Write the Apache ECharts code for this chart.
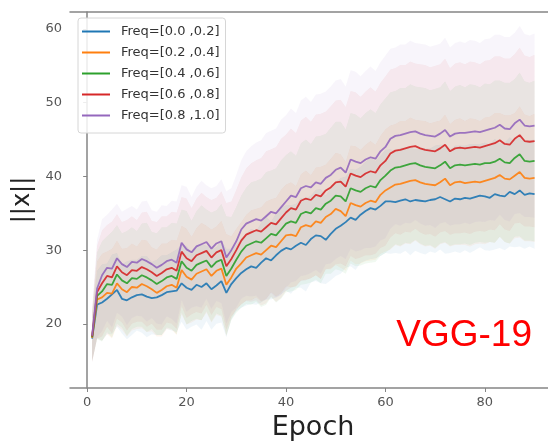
<!DOCTYPE html>
<html><head><meta charset="utf-8">
<script src="https://cdn.jsdelivr.net/npm/echarts@6/dist/echarts.min.js"></script>
<style>html,body{margin:0;padding:0;background:#fff}#c{width:548px;height:446px}</style>
</head><body><div id="c"></div>
<script>
const epochs = [1,2,3,4,5,6,7,8,9,10,11,12,13,14,15,16,17,18,19,20,21,22,23,24,25,26,27,28,29,30,
31,32,33,34,35,36,37,38,39,40,41,42,43,44,45,46,47,48,49,50,51,52,53,54,55,56,57,58,59,60,
61,62,63,64,65,66,67,68,69,70,71,72,73,74,75,76,77,78,79,80,81,82,83,84,85,86,87,88,89,90];
const seriesNames = ['Freq=[0.0 ,0.2]','Freq=[0.2 ,0.4]','Freq=[0.4 ,0.6]','Freq=[0.6 ,0.8]','Freq=[0.8 ,1.0]'];
const xTicks = [0,20,40,60,80];
const yTicks = [20,30,40,50,60];

const meanF1 = [18.0,22.6,22.9,23.4,24.0,24.6,23.4,23.2,23.6,23.9,
 24.0,23.7,23.5,23.6,23.9,24.3,24.4,24.5,25.5,24.9,
 24.6,25.3,25.0,25.5,24.7,25.2,25.8,24.2,25.4,26.2,
 26.9,27.4,27.8,27.6,28.3,28.9,28.6,29.3,29.9,30.3,
 30.1,30.6,31.0,30.7,31.5,32.0,31.9,31.4,32.2,32.9,
 33.3,33.8,34.4,34.1,34.8,35.3,35.7,35.5,36.0,36.6,
 36.6,36.5,36.7,36.9,36.6,36.8,36.7,36.6,36.8,36.9,
 37.2,36.9,36.6,37.0,36.9,37.1,37.0,37.2,37.4,37.3,
 37.1,37.6,37.4,37.3,37.9,37.6,38.1,37.5,37.7,37.6];
const meanF2 = [18.1,23.3,23.6,24.2,24.1,25.5,24.7,24.3,25.0,24.9,
 25.4,25.1,24.7,24.2,24.6,25.1,25.3,24.9,27.3,26.4,
 26.0,26.8,27.1,27.4,26.5,27.2,27.5,25.3,26.3,27.5,
 28.2,29.0,29.3,29.6,29.4,30.0,30.6,30.4,31.2,32.0,
 32.1,31.9,33.1,33.4,33.2,33.9,33.7,34.5,34.9,35.6,
 35.3,34.6,36.4,36.1,35.9,36.4,36.7,36.5,37.5,38.1,
 38.5,38.9,39.0,39.2,39.4,39.5,39.2,39.0,38.9,38.8,
 39.2,39.7,38.8,39.2,39.3,39.1,39.2,39.3,39.2,39.4,
 39.6,39.8,40.2,39.7,39.6,40.1,40.6,39.8,39.7,39.8];
const meanF3 = [18.2,23.8,24.4,25.4,25.3,26.7,25.9,25.5,26.2,26.1,
 26.6,26.3,25.9,25.4,25.8,26.3,26.5,26.1,28.5,27.6,
 27.2,28.0,28.3,28.6,27.7,28.4,28.7,26.5,27.5,28.7,
 29.8,30.6,30.9,31.2,31.0,31.6,32.2,32.0,32.8,33.6,
 33.9,33.7,34.9,35.2,35.0,35.7,35.5,36.3,36.7,37.4,
 37.3,36.6,38.4,38.1,37.9,38.4,38.7,38.5,39.5,40.1,
 40.8,41.2,41.3,41.5,41.7,41.8,41.5,41.3,41.2,41.1,
 41.5,42.0,41.1,41.5,41.6,41.5,41.6,41.7,41.6,41.8,
 41.8,42.0,42.4,41.9,41.8,42.5,43.0,42.1,42.0,42.1];
const meanF4 = [18.3,24.3,25.5,26.5,26.3,27.8,27.0,26.6,27.3,27.2,
 27.7,27.4,27.0,26.5,26.9,27.4,27.6,27.2,29.8,28.9,
 28.5,29.3,29.6,29.9,29.0,29.7,30.0,27.8,28.8,30.0,
 31.3,32.1,32.4,32.7,32.5,33.1,33.7,33.5,34.3,35.1,
 35.7,35.5,36.7,37.0,36.8,37.5,37.3,38.1,38.5,39.2,
 39.3,38.6,40.4,40.1,39.9,40.4,40.7,40.5,41.5,42.1,
 43.1,43.5,43.6,43.8,44.0,44.1,43.8,43.6,43.5,43.4,
 43.8,44.3,43.4,43.8,43.9,43.8,43.9,44.0,43.9,44.1,
 44.3,44.5,44.9,44.4,44.3,45.1,45.6,44.8,44.7,44.8];
const meanF5 = [18.4,24.8,26.6,27.6,27.5,28.9,28.1,27.7,28.4,28.3,
 28.8,28.5,28.1,27.6,28.0,28.5,28.7,28.3,31.0,30.1,
 29.7,30.5,30.8,31.1,30.2,30.9,31.2,29.0,30.0,31.2,
 32.8,33.6,33.9,34.2,34.0,34.6,35.2,35.0,35.8,36.6,
 37.4,37.2,38.4,38.7,38.5,39.2,39.0,39.8,40.2,40.9,
 41.2,40.5,42.3,42.0,41.8,42.3,42.6,42.4,43.4,44.0,
 45.1,45.5,45.6,45.8,46.0,46.1,45.8,45.6,45.5,45.4,
 45.8,46.3,45.4,45.8,45.9,45.9,46.0,46.1,46.0,46.2,
 46.4,46.6,47.0,46.5,46.4,47.2,47.7,46.9,46.8,46.9];

const stdF1 = [3.0,4.6,5.2,4.8,5.4,5.0,4.7,5.3,5.1,4.8,
 5.2,5.5,4.9,5.1,5.4,5.0,5.3,5.6,5.2,5.7,
 5.0,5.4,5.8,5.1,5.5,5.2,5.6,6.0,4.8,4.5,
 4.7,4.9,5.1,5.0,5.4,5.6,5.3,5.7,5.9,5.8,
 6.0,5.7,6.1,6.3,5.9,6.2,6.4,6.0,6.3,6.4,
 6.5,6.2,6.6,6.8,6.5,6.7,6.9,6.6,6.8,7.0,
 7.1,6.9,7.2,7.0,7.3,6.9,7.1,7.2,7.0,7.3,
 7.1,7.4,7.0,7.2,7.3,7.1,7.4,7.2,7.0,7.3,
 7.2,7.5,7.1,7.3,7.4,7.2,7.6,7.3,7.2,7.4];
const stdF2 = [3.2,5.2,5.9,5.6,6.1,5.8,5.5,6.0,5.9,5.6,
 6.0,6.2,5.7,5.9,6.3,5.8,6.1,6.4,6.0,6.5,
 5.8,6.2,6.6,5.9,6.3,6.0,6.5,6.9,5.6,5.4,
 5.6,5.8,6.1,6.0,6.4,6.6,6.3,6.7,7.0,6.9,
 7.1,6.8,7.2,7.4,7.0,7.3,7.6,7.1,7.5,7.6,
 7.7,7.4,7.8,8.0,7.7,7.9,8.1,7.8,8.0,8.3,
 8.4,8.2,8.5,8.3,8.6,8.2,8.4,8.5,8.3,8.6,
 8.4,8.7,8.3,8.5,8.6,8.4,8.7,8.5,8.3,8.6,
 8.5,8.8,8.4,8.6,8.7,8.5,8.9,8.6,8.5,8.7];
const stdF3 = [3.4,5.9,6.8,6.5,7.2,6.7,6.4,7.1,6.9,6.5,
 7.0,7.4,6.6,6.9,7.3,6.8,7.2,7.5,7.0,7.7,
 6.8,7.3,7.8,6.9,7.4,7.0,7.6,8.1,7.0,7.2,
 7.6,7.9,8.3,8.2,8.7,9.0,8.6,9.1,9.4,9.3,
 9.5,9.1,9.6,9.8,9.4,9.7,10.0,9.5,9.9,10.0,
 10.1,9.8,10.2,10.3,10.0,10.2,10.4,10.1,10.3,10.5,
 10.6,10.4,10.7,10.5,10.8,10.4,10.6,10.7,10.5,10.8,
 10.6,10.9,10.5,10.7,10.8,10.6,10.9,10.7,10.5,10.8,
 10.7,11.0,10.6,10.8,10.9,10.7,11.1,10.8,10.7,10.9];
const stdF4 = [3.5,6.3,7.2,6.9,7.6,7.1,6.8,7.5,7.3,6.9,
 7.4,7.8,7.0,7.3,7.7,7.2,7.6,7.9,7.4,8.1,
 7.2,7.7,8.2,7.3,7.8,7.4,8.0,8.6,7.8,8.2,
 8.6,9.0,9.4,9.5,10.0,10.3,10.0,10.5,10.8,10.6,
 10.8,10.4,10.9,11.1,10.6,10.9,11.2,10.7,11.0,11.1,
 11.1,10.8,11.2,11.3,10.9,11.1,11.4,11.0,11.2,11.5,
 11.4,11.2,11.5,11.3,11.6,11.2,11.4,11.5,11.3,11.6,
 11.4,11.7,11.3,11.5,11.6,11.4,11.7,11.5,11.3,11.6,
 11.5,11.8,11.4,11.6,11.7,11.5,11.9,11.6,11.5,11.7];
const stdF5 = [3.6,6.6,7.6,7.2,8.0,7.4,7.1,7.9,7.6,7.2,
 7.8,8.2,7.3,7.6,8.1,7.5,8.0,8.3,7.8,8.5,
 7.5,8.1,8.6,7.7,8.2,7.8,8.4,9.0,8.4,9.0,
 9.4,9.8,10.2,10.4,10.9,11.3,11.0,11.5,11.9,11.7,
 11.8,11.4,11.9,12.1,11.6,11.9,12.2,11.7,12.0,12.1,
 12.0,11.7,12.1,12.2,11.8,12.0,12.3,11.9,12.1,12.4,
 12.2,12.0,12.3,12.1,12.4,12.0,12.2,12.3,12.1,12.4,
 12.2,12.5,12.1,12.3,12.4,12.2,12.5,12.3,12.1,12.4,
 12.3,12.6,12.2,12.4,12.5,12.3,12.7,12.4,12.3,12.5];

const colors = ['#1f77b4','#ff7f0e','#2ca02c','#d62728','#9467bd'];
const means = [meanF1, meanF2, meanF3, meanF4, meanF5];
const stds = [stdF1, stdF2, stdF3, stdF4, stdF5];

function rgba(hex, a){
  const n = parseInt(hex.slice(1), 16);
  return 'rgba(' + ((n>>16)&255) + ',' + ((n>>8)&255) + ',' + (n&255) + ',' + a + ')';
}

function bandSeries(mean, std, color){
  return {
    type: 'custom', silent: true, z: 1,
    data: [[epochs[0], mean[0]]],
    renderItem: function(params, api){
      const up = [], lo = [];
      for (let i = 0; i < epochs.length; i++){
        up.push(api.coord([epochs[i], mean[i] + std[i]]));
        lo.push(api.coord([epochs[i], mean[i] - std[i]]));
      }
      return {type: 'polygon', shape: {points: up.concat(lo.reverse())},
        style: {fill: rgba(color, 0.065), stroke: null}};
    }
  };
}

const series = [];
for (let k = 0; k < 5; k++) series.push(bandSeries(means[k], stds[k], colors[k]));
for (let k = 0; k < 5; k++){
  series.push({
    type: 'line', name: seriesNames[k], z: 3,
    data: epochs.map((e, i) => [e, means[k][i]]),
    symbol: 'none', showSymbol: false,
    lineStyle: {color: colors[k], width: 1.8, opacity: 0.9},
    itemStyle: {color: colors[k]}
  });
}

const axisColor = '#858585';
const chart = echarts.init(document.getElementById('c'), null, {renderer: 'canvas'});
chart.setOption({
  animation: false,
  textStyle: {fontFamily: 'DejaVu Sans'},
  grid: {left: 70, top: 12, right: 0, bottom: 55, containLabel: false},
  xAxis: [{
    type: 'value', position: 'bottom', min: -3.45, max: 92.7,
    axisLine: {show: true, lineStyle: {color: axisColor, width: 1.5}},
    axisTick: {show: true, length: 4, lineStyle: {color: axisColor, width: 1}, customValues: xTicks},
    axisLabel: {customValues: xTicks, color: '#555', fontSize: 13, margin: 8},
    splitLine: {show: false},
    name: 'Epoch', nameLocation: 'middle', nameGap: 26,
    nameTextStyle: {fontSize: 27, color: '#222', padding: [0, 0, 0, 8]}
  }, {
    type: 'value', position: 'top', min: -3.45, max: 92.7,
    axisLine: {show: true, lineStyle: {color: axisColor, width: 1.5}},
    axisTick: {show: false}, axisLabel: {show: false}, splitLine: {show: false}
  }],
  yAxis: {
    type: 'value', min: 11.3, max: 62.3,
    axisLine: {show: true, lineStyle: {color: axisColor, width: 1.5}},
    axisTick: {show: true, length: 4, lineStyle: {color: axisColor, width: 1}, customValues: yTicks},
    axisLabel: {customValues: yTicks, color: '#555', fontSize: 13, margin: 8},
    splitLine: {show: false},
    name: '||x||', nameLocation: 'middle', nameGap: 32, nameRotate: 90,
    nameTextStyle: {fontSize: 24, color: '#222'}
  },
  legend: {
    data: seriesNames, orient: 'vertical', left: 78, top: 18,
    icon: 'rect', itemWidth: 28, itemHeight: 2, itemGap: 6,
    padding: [6, 6, 10, 4],
    backgroundColor: 'rgba(255,255,255,0.85)', borderColor: '#d6d6d6', borderWidth: 1, borderRadius: 3,
    textStyle: {fontSize: 13, lineHeight: 15, color: '#333', padding: [0, 0, 0, 6]}
  },
  graphic: [{
    type: 'text', right: 16, top: 317,
    style: {text: 'VGG-19', fill: '#ff0000', fontSize: 37, fontFamily: 'Liberation Sans'}
  }],
  series: series
});
</script>
</body></html>
